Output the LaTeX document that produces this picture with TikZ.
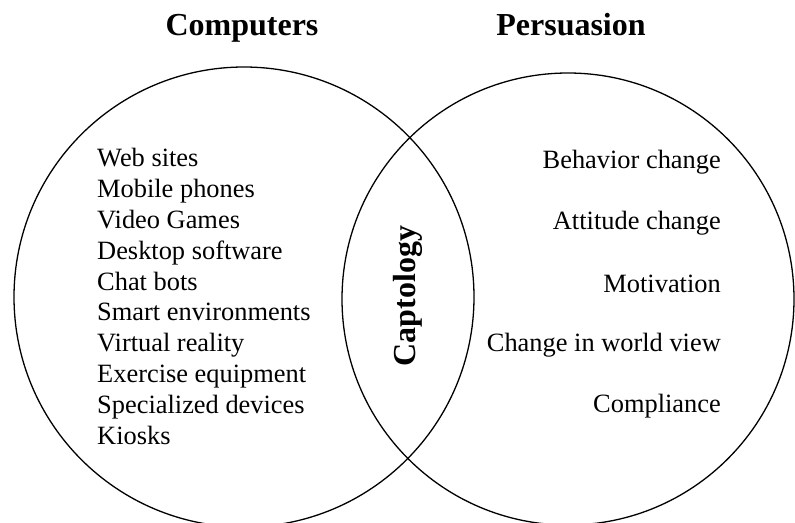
\documentclass[tikz,border=0pt]{standalone}
\usepackage{fontspec}
\setmainfont{Liberation Serif}
\begin{document}
\begin{tikzpicture}[x=1pt,y=-1pt,
  ring/.style={draw=black,line width=1.3pt},
  head/.style={font=\fontsize{32}{36}\selectfont\bfseries,inner sep=0pt},
  item/.style={font=\fontsize{26.4}{30.8}\selectfont,inner sep=0pt},
  ritem/.style={item,anchor=east}]
\useasboundingbox (0,0) rectangle (795,522);
\draw[ring] (244,297) circle[radius=230];
\draw[ring] (568,299) circle[radius=226];
\node[head,anchor=base] (comp) at (242,35) {Computers};
\node[head,anchor=base] (pers) at (571,35) {Persuasion};
\node[item,anchor=west,align=left] (list) at (97,296.5) {Web sites\\Mobile phones\\Video Games\\Desktop software\\Chat bots\\Smart environments\\Virtual reality\\Exercise equipment\\Specialized devices\\Kiosks};
\node[ritem] (r1) at (721,162) {Behavior change};
\node[ritem] (r2) at (721,223) {Attitude change};
\node[ritem] (r3) at (721,284) {Motivation};
\node[ritem] (r4) at (721,345) {Change in world view};
\node[ritem] (r5) at (721,406) {Compliance};
\node[head,rotate=90] (capt) at (407.5,296) {Captology};
\end{tikzpicture}
\end{document}
